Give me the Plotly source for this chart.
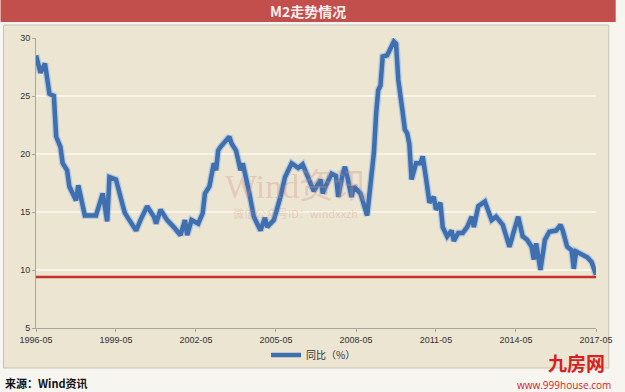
import plotly.graph_objects as go

# ---------------- data ----------------
months = [
    "1996-05", "1996-07", "1996-09", "1996-11", "1997-01", "1997-02", "1997-04", "1997-05",
    "1997-07", "1997-08", "1997-11", "1997-12", "1998-03", "1998-08", "1998-11", "1999-01",
    "1999-02", "1999-05", "1999-08", "1999-09", "1999-11", "2000-02", "2000-04", "2000-07",
    "2000-10", "2000-11", "2001-01", "2001-04", "2001-07", "2001-10", "2001-12", "2002-01",
    "2002-03", "2002-06", "2002-08", "2002-09", "2002-11", "2003-01", "2003-02", "2003-03",
    "2003-04", "2003-08", "2003-09", "2003-11", "2004-01", "2004-02", "2004-05", "2004-07",
    "2004-10", "2004-12", "2005-01", "2005-04", "2005-07", "2005-09", "2005-12", "2006-03",
    "2006-05", "2006-08", "2006-09", "2006-10", "2007-01", "2007-02", "2007-04", "2007-06",
    "2007-08", "2007-09", "2007-11", "2007-12", "2008-01", "2008-03", "2008-04", "2008-07",
    "2008-10", "2008-12", "2009-01", "2009-02", "2009-03", "2009-04", "2009-05", "2009-07",
    "2009-09", "2009-10", "2009-11", "2009-12", "2010-02", "2010-03", "2010-04", "2010-05",
    "2010-06", "2010-08", "2010-10", "2010-11", "2011-01", "2011-02", "2011-04", "2011-05",
    "2011-07", "2011-08", "2011-10", "2011-12", "2012-01", "2012-03", "2012-05", "2012-07",
    "2012-09", "2012-10", "2012-12", "2013-03", "2013-06", "2013-08", "2013-11", "2014-02",
    "2014-04", "2014-06", "2014-08", "2014-10", "2014-12", "2015-01", "2015-02", "2015-04",
    "2015-06", "2015-08", "2015-11", "2016-01", "2016-02", "2016-04", "2016-06", "2016-07",
    "2016-08", "2016-11", "2017-01", "2017-03", "2017-05",
]
m2_yoy = [
    28.5, 27.0, 27.8, 25.2, 25.0, 21.5, 20.6, 19.2,
    18.6, 17.2, 16.0, 17.3, 14.7, 14.7, 16.6, 14.2,
    18.0, 17.8, 15.6, 14.9, 14.3, 13.4, 14.3, 15.5,
    14.6, 14.0, 15.2, 14.3, 13.7, 13.0, 14.3, 13.0,
    14.3, 14.0, 14.9, 16.6, 17.2, 19.2, 18.6, 20.3,
    20.6, 21.5, 20.9, 20.3, 18.6, 19.2, 16.6, 14.6,
    13.4, 14.5, 13.7, 14.3, 16.3, 18.0, 19.2, 18.8,
    19.1, 17.8, 17.2, 16.8, 17.8, 16.6, 17.5, 18.3,
    18.1, 16.3, 18.3, 18.9, 18.1, 16.3, 17.2, 16.6,
    14.7, 17.8, 20.1, 23.5, 25.5, 25.9, 28.4, 28.5,
    29.3, 29.7, 29.5, 26.4, 23.5, 22.1, 21.8, 20.9,
    17.8, 19.2, 19.2, 19.8, 17.2, 15.8, 16.3, 15.2,
    15.8, 13.7, 12.9, 13.4, 12.5, 13.2, 13.2, 13.7,
    14.6, 13.7, 15.5, 15.9, 14.3, 14.6, 13.9, 12.0,
    13.3, 14.6, 12.9, 12.6, 12.0, 10.9, 12.3, 10.0,
    12.6, 13.3, 13.4, 13.9, 13.4, 12.0, 11.7, 10.1,
    11.6, 11.3, 11.1, 10.7, 9.6,
]
reference_level = 9.4
tick_labels = ["1996-05", "1999-05", "2002-05", "2005-05", "2008-05", "2011-05", "2014-05", "2017-05"]
y_ticks = [5, 10, 15, 20, 25, 30]

x_dates = [m + "-01" for m in months]
tick_dates = [t + "-01" for t in tick_labels]

# pixel helpers for paper coords (plot area: x 36..605, y 38..328)
def px(x):
    return (x - 36) / 569

def py(y):
    return (328 - y) / 290

fig = go.Figure()
# soft halo under the line
fig.add_trace(go.Scatter(x=x_dates, y=m2_yoy, mode="lines",
                         line=dict(color="rgba(140,180,225,0.55)", width=7),
                         hoverinfo="skip", showlegend=False))
fig.add_trace(go.Scatter(x=x_dates, y=m2_yoy, mode="lines", name="同比（%）",
                         line=dict(color="#3f6fae", width=4.5)))

# red reference line
fig.add_shape(type="line", xref="paper", yref="y", x0=0, x1=1,
              y0=reference_level, y1=reference_level,
              line=dict(color="#c8302a", width=2.5), layer="above")

# chart panel and title band
fig.add_shape(type="rect", xref="paper", yref="paper",
              x0=px(3), x1=px(618), y0=py(368), y1=py(25),
              fillcolor="#ebe5d2", line=dict(color="#c9c4b5", width=1), layer="below")
fig.add_shape(type="rect", xref="paper", yref="paper",
              x0=px(0), x1=px(625), y0=py(22), y1=py(0),
              fillcolor="#c24f4c", line=dict(width=0), layer="below")

fig.add_annotation(xref="paper", yref="paper", x=px(312), y=py(11),
                   xanchor="center", yanchor="middle",
                   text="<b>M2走势情况</b>", showarrow=False,
                   font=dict(family="Noto Sans CJK SC", size=14, color="#f8eeec"))

# watermark
fig.add_annotation(xref="paper", yref="paper", x=px(300), y=py(186),
                   xanchor="center", yanchor="middle",
                   text="Wind资讯", showarrow=False,
                   font=dict(family="Liberation Serif, Noto Sans CJK SC", size=34,
                             color="rgba(215,140,125,0.33)"))
fig.add_annotation(xref="paper", yref="paper", x=px(300), y=py(213),
                   xanchor="center", yanchor="middle",
                   text="微信公众号ID：windxxzh", showarrow=False,
                   font=dict(family="Noto Sans CJK SC", size=11,
                             color="rgba(215,140,125,0.33)"))

# source footnote
fig.add_annotation(xref="paper", yref="paper", x=px(2), y=py(383),
                   xanchor="left", yanchor="middle",
                   text="<b>来源：Wind资讯</b>", showarrow=False,
                   font=dict(family="Noto Sans CJK SC", size=11, color="#111111"))

# site logo
fig.add_annotation(xref="paper", yref="paper", x=px(616), y=py(362),
                   xanchor="right", yanchor="middle",
                   text="<b>九房网</b>", showarrow=False,
                   font=dict(family="Noto Sans CJK SC", size=19, color="#d8201e"))
fig.add_annotation(xref="paper", yref="paper", x=px(622), y=py(385),
                   xanchor="right", yanchor="middle",
                   text="www.999house.com", showarrow=False,
                   font=dict(family="Open Sans", size=10, color="#d8201e"))

fig.update_layout(
    width=625, height=392,
    margin=dict(l=36, r=20, t=38, b=64),
    paper_bgcolor="#f7f5f0",
    plot_bgcolor="#ebe5d2",
    showlegend=True,
    legend=dict(orientation="h", x=px(318), y=py(355), xanchor="center",
                yanchor="middle", bgcolor="rgba(0,0,0,0)", itemwidth=30,
                font=dict(family="Noto Sans CJK SC", size=10, color="#333333")),
    font=dict(family="Noto Sans CJK SC", size=9, color="#333333"),
)
fig.update_xaxes(type="date", range=["1996-05-01", "2017-05-01"],
                 tickvals=tick_dates, ticktext=tick_labels, showgrid=False,
                 showline=True, linecolor="#a9a79d", ticks="outside", ticklen=3,
                 tickcolor="#a9a79d", zeroline=False,
                 tickfont=dict(family="Liberation Sans Narrow, Liberation Sans", size=9, color="#333333"))
fig.update_yaxes(range=[5, 30], tickvals=y_ticks, showgrid=True,
                 gridcolor="#f8f4e8", gridwidth=1.5, showline=True,
                 linecolor="#a9a79d", ticks="outside", ticklen=3, tickcolor="#a9a79d",
                 zeroline=False,
                 tickfont=dict(family="Liberation Sans", size=9, color="#333333"))

fig.write_html("out.html")
